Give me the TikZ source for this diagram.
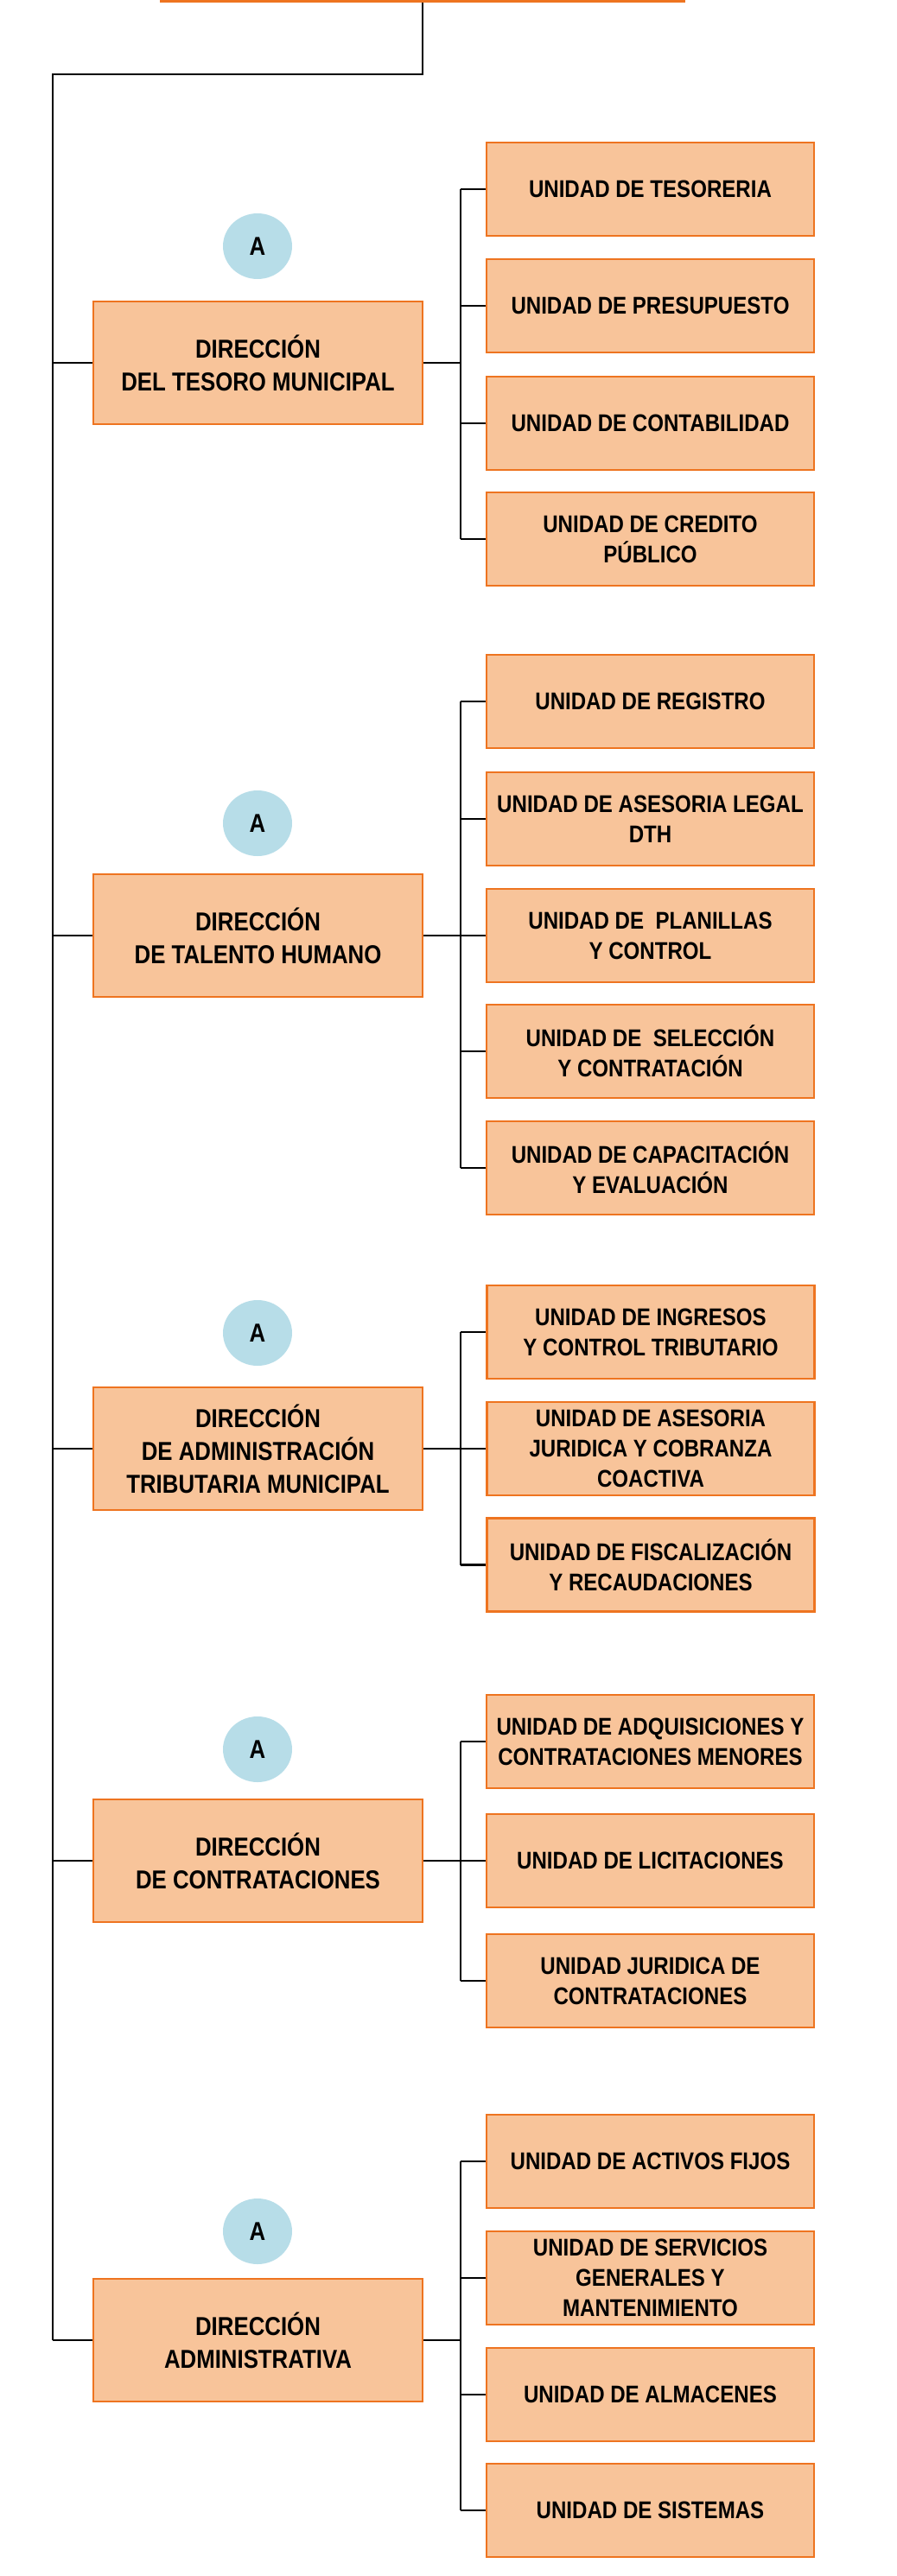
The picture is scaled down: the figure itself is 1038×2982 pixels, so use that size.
\documentclass[tikz,border=0pt]{standalone}
\usepackage{fontspec}
\setmainfont{Liberation Sans}[FakeStretch=0.86]
\usetikzlibrary{shapes.geometric}
\definecolor{peach}{HTML}{F8C49A}
\definecolor{borange}{HTML}{EE7420}
\definecolor{lblue}{HTML}{B7DDE8}
\tikzset{
  unitbox/.style={rectangle, draw=borange, fill=peach, line width=2.6pt,
    minimum width=379pt, minimum height=108pt, inner sep=0pt, align=center,
    font=\fontsize{28}{35}\selectfont\bfseries},
  dirbox/.style={rectangle, draw=borange, fill=peach, line width=2.6pt,
    minimum width=381pt, minimum height=142pt, inner sep=0pt, align=center,
    font=\fontsize{30}{38}\selectfont\bfseries},
  badge/.style={ellipse, fill=lblue, minimum width=80pt, minimum height=76pt,
    inner sep=0pt, font=\fontsize{30}{36}\selectfont\bfseries},
  conn/.style={draw=black, line width=2.8pt},
}
\begin{document}
\begin{tikzpicture}[x=1pt,y=-1pt]
\useasboundingbox (0,0) rectangle (1038,2982);
% top box (only its lower edge is visible)
\node (top) [rectangle, fill=borange, minimum width=608pt, minimum height=3pt, inner sep=0pt] at (489,1.5) {};
\coordinate (jt) at (61,86);
\coordinate (busx) at (533,0);

% Section 1
\node (a1) [badge] at (298,285) {A};
\node (d1) [dirbox] at (298.5,420) {DIRECCIÓN\\DEL TESORO MUNICIPAL};
\node (u11) [unitbox] at (752.5,219) {UNIDAD DE TESORERIA};
\node (u12) [unitbox] at (752.5,354) {UNIDAD DE PRESUPUESTO};
\node (u13) [unitbox] at (752.5,490) {UNIDAD DE CONTABILIDAD};
\node (u14) [unitbox] at (752.5,624) {UNIDAD DE CREDITO\\PÚBLICO};

% Section 2
\node (a2) [badge] at (298,953) {A};
\node (d2) [dirbox] at (298.5,1083) {DIRECCIÓN\\DE TALENTO HUMANO};
\node (u21) [unitbox] at (752.5,812) {UNIDAD DE REGISTRO};
\node (u22) [unitbox] at (752.5,948) {UNIDAD DE ASESORIA LEGAL\\DTH};
\node (u23) [unitbox] at (752.5,1083) {UNIDAD DE~ PLANILLAS\\Y CONTROL};
\node (u24) [unitbox] at (752.5,1217) {UNIDAD DE~ SELECCIÓN\\Y CONTRATACIÓN};
\node (u25) [unitbox] at (752.5,1352) {UNIDAD DE CAPACITACIÓN\\Y EVALUACIÓN};

% Section 3
\node (a3) [badge] at (298,1543) {A};
\node (d3) [dirbox] at (298.5,1677) {DIRECCIÓN\\DE ADMINISTRACIÓN\\TRIBUTARIA MUNICIPAL};
\node (u31) [unitbox] at (753,1542) {UNIDAD DE INGRESOS\\Y CONTROL TRIBUTARIO};
\node (u32) [unitbox] at (753,1677) {UNIDAD DE ASESORIA\\JURIDICA Y COBRANZA\\COACTIVA};
\node (u33) [unitbox] at (753,1811.5) {UNIDAD DE FISCALIZACIÓN\\Y RECAUDACIONES};

% Section 4
\node (a4) [badge] at (298,2025) {A};
\node (d4) [dirbox] at (298.5,2154) {DIRECCIÓN\\DE CONTRATACIONES};
\node (u41) [unitbox] at (752.5,2016) {UNIDAD DE ADQUISICIONES Y\\CONTRATACIONES MENORES};
\node (u42) [unitbox] at (752.5,2154) {UNIDAD DE LICITACIONES};
\node (u43) [unitbox] at (752.5,2293) {UNIDAD JURIDICA DE\\CONTRATACIONES};

% Section 5
\node (a5) [badge] at (298,2583) {A};
\node (d5) [dirbox] at (298.5,2709) {DIRECCIÓN\\ADMINISTRATIVA};
\node (u51) [unitbox] at (752.5,2502) {UNIDAD DE ACTIVOS FIJOS};
\node (u52) [unitbox] at (752.5,2637) {UNIDAD DE SERVICIOS\\GENERALES Y\\MANTENIMIENTO};
\node (u53) [unitbox] at (752.5,2772) {UNIDAD DE ALMACENES};
\node (u54) [unitbox] at (752.5,2906) {UNIDAD DE SISTEMAS};

% Trunk
\draw[conn] (top.south) |- (jt) -- (d5.west -| jt);
\foreach \d in {d1,d2,d3,d4,d5}{
  \draw[conn] (\d.west) -- (\d.west -| jt);
  \draw[conn] (\d.east) -- (\d.east -| busx);
}
% Buses
\draw[conn] (u11.west -| busx) -- (u14.west -| busx);
\draw[conn] (u21.west -| busx) -- (u25.west -| busx);
\draw[conn] (u31.west -| busx) -- (u33.west -| busx);
\draw[conn] (u41.west -| busx) -- (u43.west -| busx);
\draw[conn] (u51.west -| busx) -- (u54.west -| busx);
\foreach \u in {u11,u12,u13,u14,u21,u22,u23,u24,u25,u31,u32,u33,u41,u42,u43,u51,u52,u53,u54}{
  \draw[conn] (\u.west) -- (\u.west -| busx);
}
\end{tikzpicture}
\end{document}
